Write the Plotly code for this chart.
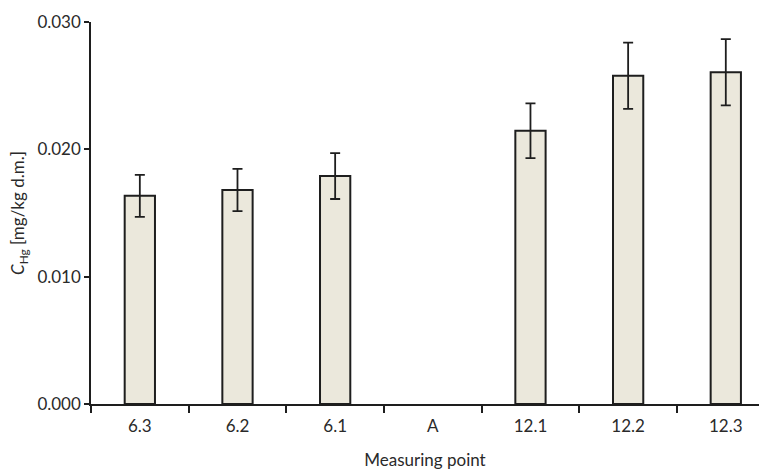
import plotly.graph_objects as go

categories = ["6.3", "6.2", "6.1", "A", "12.1", "12.2", "12.3"]
values = [0.01635, 0.0168, 0.0179, None, 0.02146, 0.02578, 0.02606]
errors = [0.00165, 0.00166, 0.0018, None, 0.00215, 0.0026, 0.0026]
y_ticks = [0.0, 0.010, 0.020, 0.030]

font_family = "Lato, 'Open Sans', sans-serif"
txt_color = "#2a2a2a"

fig = go.Figure()
fig.add_trace(go.Bar(
    x=categories,
    y=values,
    width=0.31,
    marker=dict(color="#EBE8DC", line=dict(color="#1e1e1e", width=2)),
    error_y=dict(type="data", array=errors, visible=True,
                 color="#1e1e1e", thickness=1.8, width=5),
))

fig.update_layout(
    width=759, height=470,
    margin=dict(l=91, r=0, t=22, b=66),
    paper_bgcolor="white", plot_bgcolor="white",
    showlegend=False,
    font=dict(family=font_family, size=17, color=txt_color),
    xaxis=dict(
        type="category",
        range=[-0.5, 6.34],
        tickson="boundaries",
        ticks="outside", ticklen=7, tickwidth=1.5, tickcolor="#1e1e1e",
        ticklabelstandoff=6,
        showline=True, linecolor="#1e1e1e", linewidth=1.5,
        showgrid=False, zeroline=False,
        tickfont=dict(size=17, color=txt_color),
        title=dict(text="Measuring point", font=dict(size=17, color=txt_color), standoff=22),
    ),
    yaxis=dict(
        range=[0, 0.030],
        tickvals=y_ticks,
        tickformat=".3f",
        ticks="outside", ticklen=5, tickwidth=1.5, tickcolor="#1e1e1e",
        showline=True, linecolor="#1e1e1e", linewidth=1.5,
        showgrid=False, zeroline=False,
        tickfont=dict(size=17, color=txt_color),
        title=dict(text="<i>C</i><sub>Hg</sub> [mg/kg d.m.]", font=dict(size=17, color=txt_color), standoff=8),
    ),
)

fig.write_html("out.html")
